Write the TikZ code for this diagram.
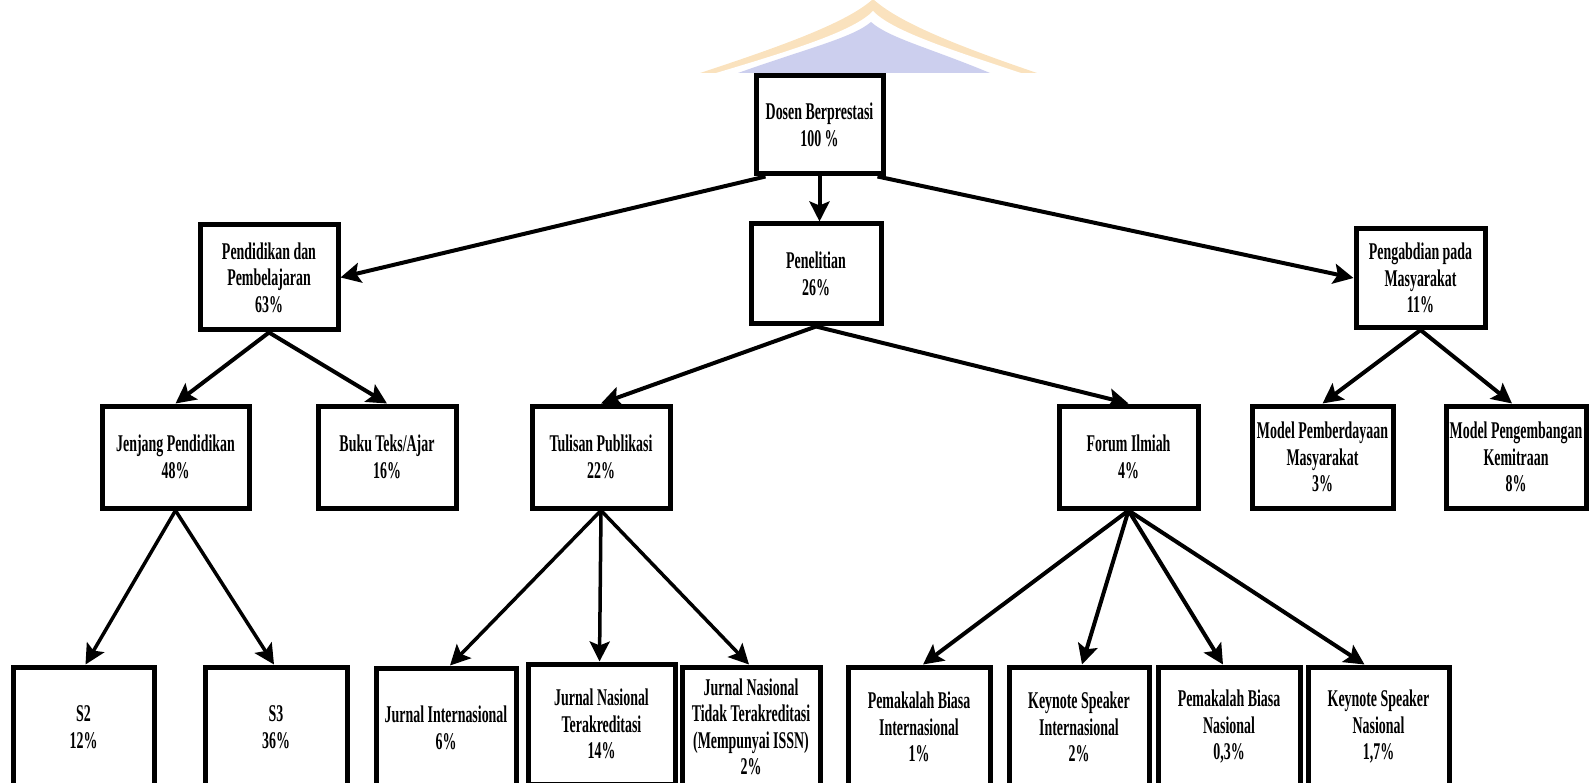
\documentclass[tikz,border=0pt]{standalone}
\usepackage{fontspec}
\newfontfamily\boxfont{Liberation Serif}[FakeStretch=0.58]
\usetikzlibrary{arrows.meta}
\definecolor{logoorange}{RGB}{250,226,190}
\definecolor{logoblue}{RGB}{204,207,238}
\begin{document}
\begin{tikzpicture}[x=1pt,y=-1pt,
  box/.style={draw, line width=5pt, align=center, inner sep=0pt,
    font=\boxfont\bfseries\fontsize{24}{26.5}\selectfont},
  midbox/.style={box, minimum height=102pt},
  lowbox/.style={box, minimum height=120pt},
  arr/.style={line width=4pt, -{Stealth[length=20pt,width=20pt,inset=4pt]}},
  thinarr/.style={arr, line width=3.5pt}]
\useasboundingbox (0,0) rectangle (1592,783);
\clip (0,0) rectangle (1592,783);
% faded logo watermark
\fill[logoorange] (700,73) .. controls (785,45) and (848,22) .. (873,-1)
  .. controls (898,22) and (955,45) .. (1037,73) -- cycle;
\fill[white] (716,73) .. controls (800,48) and (855,30) .. (873,11)
  .. controls (891,30) and (945,48) .. (1021,73) -- cycle;
\fill[logoblue] (738,73) .. controls (808,48) and (852,38) .. (871,22)
  .. controls (889,38) and (930,48) .. (990,73) -- cycle;
% top level
\node[box, minimum width=127pt, minimum height=98pt] (dosen) at (819.5,125) {Dosen Berprestasi\\100 \%};
\node[box, minimum width=138pt, minimum height=105pt] (pend) at (269,277.5) {Pendidikan dan\\Pembelajaran\\63\%};
\node[box, minimum width=130pt, minimum height=100pt] (pen) at (816,274) {Penelitian\\26\%};
\node[box, minimum width=129pt, minimum height=99pt] (peng) at (1420.5,278) {Pengabdian pada\\Masyarakat\\11\%};
% middle level
\node[midbox, minimum width=147pt] (jenjang) at (175.5,457) {Jenjang Pendidikan\\48\%};
\node[midbox, minimum width=138pt] (buku) at (387,457) {Buku Teks/Ajar\\16\%};
\node[midbox, minimum width=138pt] (tulisan) at (601,457) {Tulisan Publikasi\\22\%};
\node[midbox, minimum width=139pt] (forum) at (1128.5,457) {Forum Ilmiah\\4\%};
\node[midbox, minimum width=141pt] (modpemb) at (1322.5,457) {Model Pemberdayaan\\Masyarakat\\3\%};
\node[midbox, minimum width=140pt] (modpeng) at (1516,457) {Model Pengembangan\\Kemitraan\\8\%};
% bottom level
\node[lowbox, minimum width=141pt] (s2) at (83.5,727) {S2\\12\%};
\node[lowbox, minimum width=142pt] (s3) at (276,727) {S3\\36\%};
\node[lowbox, minimum width=140pt] (ji) at (446,728) {Jurnal Internasional\\6\%};
\node[lowbox, minimum width=147pt] (jnt) at (601.5,724) {Jurnal Nasional\\Terakreditasi\\14\%};
\node[lowbox, minimum width=138pt] (jntt) at (751,727) {Jurnal Nasional\\Tidak Terakreditasi\\(Mempunyai ISSN)\\2\%};
\node[lowbox, minimum width=142pt] (pbi) at (919,727) {Pemakalah Biasa\\Internasional\\1\%};
\node[lowbox, minimum width=140pt] (ksi) at (1079,727) {Keynote Speaker\\Internasional\\2\%};
\node[lowbox, minimum width=142pt] (pbn) at (1229,727) {Pemakalah Biasa\\Nasional\\0,3\%};
\node[lowbox, minimum width=141pt] (ksn) at (1378.5,727) {Keynote Speaker\\Nasional\\1,7\%};
% connectors
\draw[arr] ([xshift=-54pt]dosen.south) -- (pend.east);
\draw[arr] (dosen.south) -- (dosen.south |- pen.north);
\draw[arr] ([xshift=58pt]dosen.south) -- (peng.west);
\draw[arr] (pend.south) -- (jenjang.north);
\draw[arr] (pend.south) -- (buku.north);
\draw[arr] (pen.south) -- (tulisan.north);
\draw[arr] (pen.south) -- (forum.north);
\draw[arr] (peng.south) -- (modpemb.north);
\draw[arr] (peng.south) -- ([xshift=-4pt]modpeng.north);
\draw[thinarr] (jenjang.south) -- ([xshift=2pt]s2.north);
\draw[thinarr] (jenjang.south) -- ([xshift=-2pt]s3.north);
\draw[thinarr] (tulisan.south) -- ([xshift=4pt]ji.north);
\draw[thinarr] (tulisan.south) -- ([xshift=-2pt]jnt.north);
\draw[thinarr] (tulisan.south) -- ([xshift=-2pt]jntt.north);
\draw[arr] (forum.south) -- ([xshift=4pt]pbi.north);
\draw[arr] (forum.south) -- ([xshift=3pt]ksi.north);
\draw[arr] (forum.south) -- ([xshift=-6pt]pbn.north);
\draw[arr] (forum.south) -- ([xshift=-14pt]ksn.north);
\end{tikzpicture}
\end{document}
